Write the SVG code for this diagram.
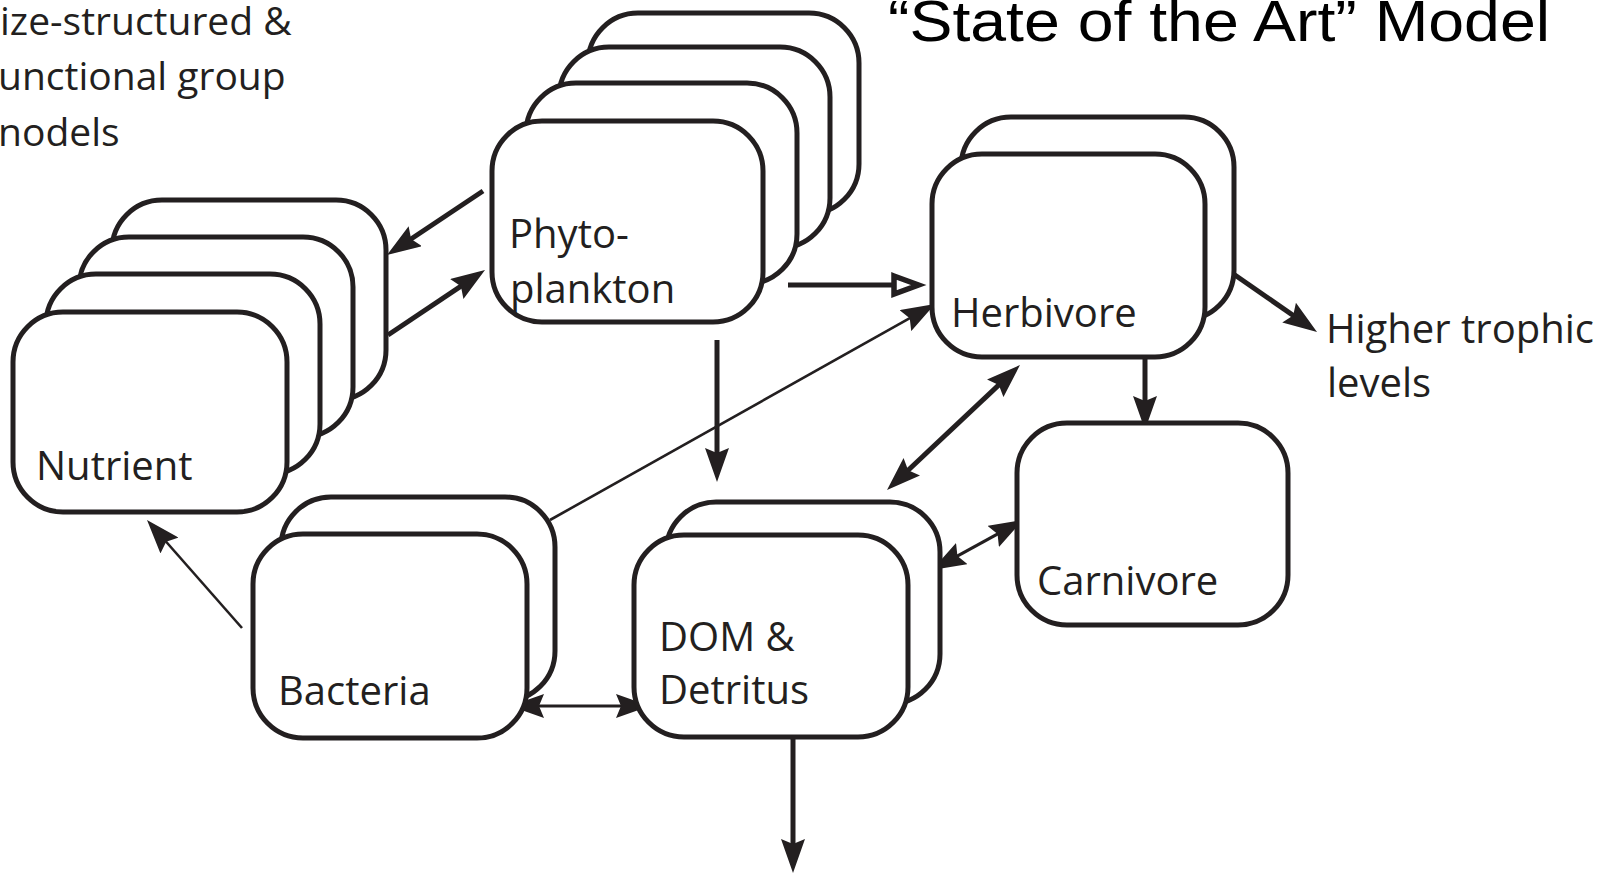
<svg xmlns="http://www.w3.org/2000/svg" width="1614" height="879" viewBox="0 0 1614 879">
  <defs>
    <style>
      .box { fill: #ffffff; stroke: #231f20; stroke-width: 5; }
      .lbl { font-family: "Open Sans", "Noto Sans", sans-serif; font-size: 40px; fill: #231f20; }
      .cap { font-family: "Open Sans", "Noto Sans", sans-serif; font-size: 39px; fill: #231f20; }
      .title { font-family: "Liberation Sans", Arial, sans-serif; font-size: 58px; fill: #000000; }
      .thick { stroke: #231f20; stroke-width: 5; fill: none; }
      .thin { stroke: #231f20; stroke-width: 2.6; fill: none; }
      .mid { stroke: #231f20; stroke-width: 3.2; fill: none; }
    </style>
    <!-- solid arrowhead; the tip sits 10px beyond the line end -->
    <marker id="ah" viewBox="0 0 34 24" refX="24" refY="12" markerWidth="34" markerHeight="24" markerUnits="userSpaceOnUse" orient="auto-start-reverse">
      <path d="M0,0 L34,12 L0,24 L5,12 z" fill="#231f20"/>
    </marker>
    <!-- hollow arrowhead with a heavy outline -->
    <marker id="open" viewBox="-4 -4 40 34" refX="2.5" refY="13" markerWidth="40" markerHeight="34" markerUnits="userSpaceOnUse" orient="auto">
      <path d="M2.5,4 L27,13 L2.5,22 z" fill="#ffffff" stroke="#231f20" stroke-width="5.5" stroke-linejoin="miter"/>
    </marker>
  </defs>

  <rect width="1614" height="879" fill="#ffffff"/>

  <!-- headings -->
  <text class="title" x="888" y="41" textLength="662" lengthAdjust="spacingAndGlyphs">“State of the Art” Model</text>
  <g id="caption" class="cap">
    <text x="0" y="35">ize-structured &amp;</text>
    <text x="-2" y="90">unctional group</text>
    <text x="-2" y="146">nodels</text>
  </g>

  <!-- connectors -->
  <g id="connectors">
    <line class="thick" x1="483" y1="191" x2="395.3" y2="249.5" marker-end="url(#ah)"/>
    <line class="thick" x1="388" y1="335" x2="476.7" y2="275.6" marker-end="url(#ah)"/>
    <line class="thick" x1="788" y1="285" x2="894" y2="285" marker-end="url(#open)"/>
    <line class="thin" x1="550" y1="520" x2="926.3" y2="308.9" marker-end="url(#ah)"/>
    <line class="thick" x1="717" y1="340" x2="717" y2="472" marker-end="url(#ah)"/>
    <line class="thick" x1="1232" y1="273" x2="1308.8" y2="326.3" marker-end="url(#ah)"/>
    <line class="thick" x1="1145" y1="358" x2="1145" y2="420" marker-end="url(#ah)"/>
    <line class="thick" x1="894.3" y1="483.2" x2="1012.7" y2="371.9" marker-start="url(#ah)" marker-end="url(#ah)"/>
    <line class="mid" x1="940.8" y1="565.2" x2="1014.2" y2="524.8" marker-start="url(#ah)" marker-end="url(#ah)"/>
    <line class="mid" x1="520" y1="706" x2="640" y2="706" marker-start="url(#ah)" marker-end="url(#ah)"/>
    <line class="thin" x1="242" y1="628" x2="153.6" y2="527.5" marker-end="url(#ah)"/>
    <line class="thick" x1="793" y1="737" x2="793" y2="863" marker-end="url(#ah)"/>
  </g>

  <!-- nutrient stack -->
  <g id="nutrient">
    <rect class="box" x="112" y="200" width="274" height="200" rx="50"/>
    <rect class="box" x="79" y="237" width="274" height="200" rx="50"/>
    <rect class="box" x="46" y="274" width="274" height="200" rx="50"/>
    <rect class="box" x="13" y="312" width="274" height="200" rx="50"/>
    <text class="lbl" x="36" y="480">Nutrient</text>
  </g>

  <!-- phytoplankton stack -->
  <g id="phytoplankton">
    <rect class="box" x="588" y="13" width="271" height="201" rx="50"/>
    <rect class="box" x="559" y="47" width="271" height="201" rx="50"/>
    <rect class="box" x="526" y="83" width="271" height="201" rx="50"/>
    <rect class="box" x="492" y="121" width="271" height="201" rx="50"/>
    <text class="lbl" x="509" y="248">Phyto-</text>
    <text class="lbl" x="510" y="303">plankton</text>
  </g>

  <!-- herbivore stack -->
  <g id="herbivore">
    <rect class="box" x="961" y="117" width="273" height="203" rx="50"/>
    <rect class="box" x="932" y="154" width="273" height="203" rx="50"/>
    <text class="lbl" x="951" y="327">Herbivore</text>
  </g>

  <!-- carnivore -->
  <g id="carnivore">
    <rect class="box" x="1017" y="423" width="271" height="202" rx="50"/>
    <text class="lbl" x="1037" y="595">Carnivore</text>
  </g>

  <!-- bacteria stack -->
  <g id="bacteria">
    <rect class="box" x="281" y="497" width="274" height="204" rx="50"/>
    <rect class="box" x="253" y="534" width="274" height="204" rx="50"/>
    <text class="lbl" x="278" y="705">Bacteria</text>
  </g>

  <!-- DOM and detritus stack -->
  <g id="dom-detritus">
    <rect class="box" x="666" y="502" width="274" height="202" rx="50"/>
    <rect class="box" x="634" y="535" width="274" height="202" rx="50"/>
    <text class="lbl" x="659" y="651">DOM &amp;</text>
    <text class="lbl" x="659" y="704">Detritus</text>
  </g>

  <!-- outflow label -->
  <g id="higher-trophic" class="lbl">
    <text x="1326" y="343">Higher trophic</text>
    <text x="1327" y="397">levels</text>
  </g>
</svg>
